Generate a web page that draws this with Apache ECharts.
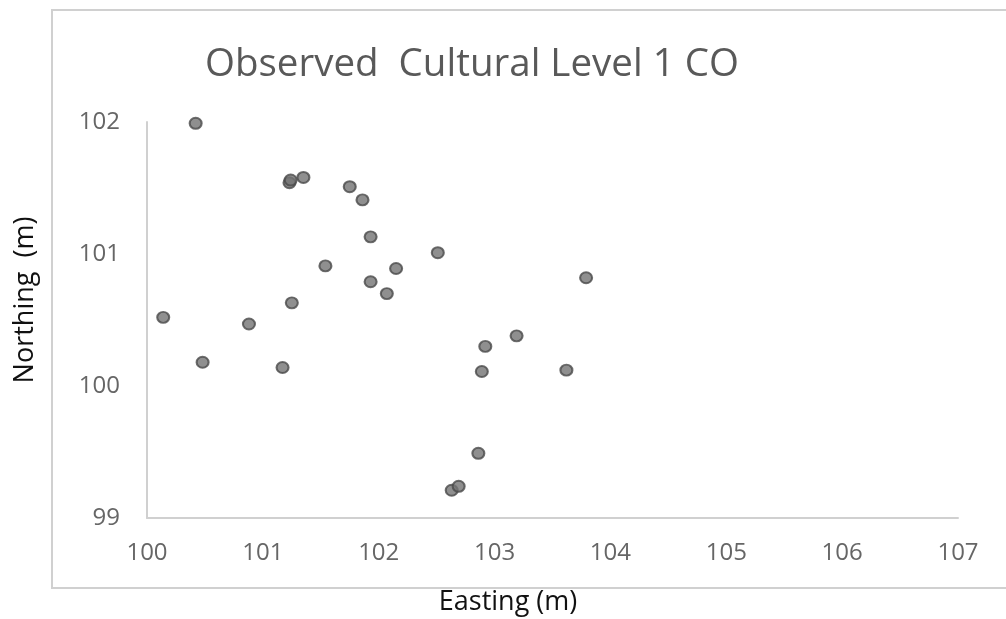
<!DOCTYPE html>
<html>
<head>
<meta charset="utf-8">
<script src="https://cdn.jsdelivr.net/npm/echarts@6/dist/echarts.min.js"></script>
<style>
  html, body { margin: 0; padding: 0; background: #ffffff; }
  #chart { width: 1006px; height: 619px; }
</style>
</head>
<body>
<div id="chart"></div>
<script>
// Observed artefact positions, cultural level 1 (metres on the site grid)
const easting = [
  100.42, 101.23, 101.24, 101.35, 101.75, 101.86, 101.93, 102.51,
  101.54, 102.15, 101.93, 102.07, 101.25, 103.79, 100.14, 100.88,
  100.48, 101.17, 102.92, 103.19, 102.89, 103.62, 102.86, 102.63,
  102.69
];
const northing = [
  101.99, 101.54, 101.56, 101.58, 101.51, 101.41, 101.13, 101.01,
  100.91, 100.89, 100.79, 100.70, 100.63, 100.82, 100.52, 100.47,
  100.18, 100.14, 100.30, 100.38, 100.11, 100.12, 99.49, 99.21,
  99.24
];
const xTicks = { min: 100, max: 107, step: 1 };
const yTicks = { min: 99, max: 102, step: 1 };

const points = easting.map((e, i) => [e, northing[i]]);

const chart = echarts.init(document.getElementById('chart'), null, { renderer: 'canvas' });
const font = '"Open Sans", "Liberation Sans", sans-serif';

chart.setOption({
  animation: false,
  backgroundColor: '#ffffff',
  title: {
    text: 'Observed  Cultural Level 1 CO',
    left: 200,
    top: 37,
    textStyle: { fontFamily: font, fontSize: 38.5, fontWeight: 'normal', color: '#595959', lineHeight: 46 }
  },
  grid: { left: 147, top: 122, right: 48, bottom: 101, containLabel: false },
  xAxis: {
    type: 'value',
    min: xTicks.min, max: xTicks.max, interval: xTicks.step,
    axisLine: { show: true, lineStyle: { color: '#d0d0d0', width: 2 } },
    axisTick: { show: false },
    splitLine: { show: false },
    axisLabel: { fontFamily: font, fontSize: 24, color: '#666666', margin: 22, lineHeight: 26 }
  },
  yAxis: {
    type: 'value',
    min: yTicks.min, max: yTicks.max, interval: yTicks.step,
    axisLine: { show: true, lineStyle: { color: '#d0d0d0', width: 2 } },
    axisTick: { show: false },
    splitLine: { show: false },
    axisLabel: { fontFamily: font, fontSize: 24, color: '#666666', margin: 27 }
  },
  graphic: [
    {
      type: 'rect', silent: true, z: -1,
      shape: { x: 52, y: 10, width: 980, height: 578 },
      style: { fill: 'none', stroke: '#d0d0d0', lineWidth: 2 }
    },
    {
      type: 'text', silent: true,
      x: 25, y: 300, rotation: Math.PI / 2,
      style: {
        text: 'Northing  (m)', font: '27px ' + font, fill: '#111111',
        textAlign: 'center', textVerticalAlign: 'middle'
      }
    },
    {
      type: 'text', silent: true,
      x: 508, y: 602,
      style: {
        text: 'Easting (m)', font: '27px ' + font, fill: '#111111',
        textAlign: 'center', textVerticalAlign: 'middle'
      }
    }
  ],
  series: [{
    type: 'scatter',
    data: points,
    symbol: 'circle',
    symbolSize: [12, 11],
    itemStyle: { color: '#737373', borderColor: '#4a4a4a', borderWidth: 2 }
  }]
});
</script>
</body>
</html>
